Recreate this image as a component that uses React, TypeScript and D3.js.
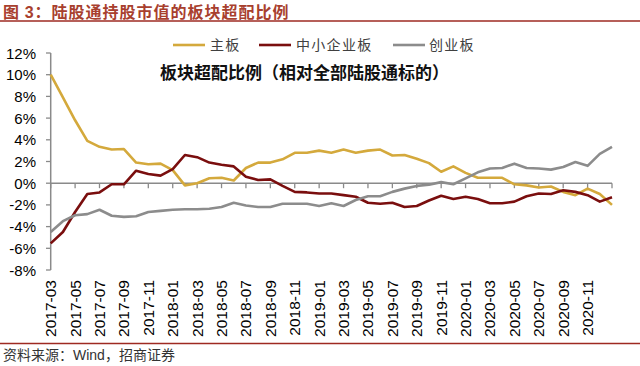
import * as d3 from 'd3';

const months = [
  '2017-03', '2017-04', '2017-05', '2017-06', '2017-07', '2017-08', '2017-09', '2017-10', '2017-11', '2017-12',
  '2018-01', '2018-02', '2018-03', '2018-04', '2018-05', '2018-06', '2018-07', '2018-08', '2018-09', '2018-10',
  '2018-11', '2018-12', '2019-01', '2019-02', '2019-03', '2019-04', '2019-05', '2019-06', '2019-07', '2019-08',
  '2019-09', '2019-10', '2019-11', '2019-12', '2020-01', '2020-02', '2020-03', '2020-04', '2020-05', '2020-06',
  '2020-07', '2020-08', '2020-09', '2020-10', '2020-11', '2020-12', '2021-01',
];

// 主板
const mainBoard = [
  10.0, 7.9, 5.8, 3.9, 3.35, 3.1, 3.15, 1.9, 1.75, 1.8,
  1.2, -0.2, 0.0, 0.45, 0.5, 0.25, 1.4, 1.9, 1.9, 2.2,
  2.8, 2.8, 3.0, 2.8, 3.1, 2.8, 3.0, 3.1, 2.55, 2.6,
  2.25, 1.85, 1.05, 1.55, 0.95, 0.5, 0.5, 0.5, -0.1, -0.2,
  -0.4, -0.3, -0.8, -1.1, -0.5, -1.0, -2.0,
];

// 中小企业板
const smeBoard = [
  -5.55, -4.5, -2.65, -1.0, -0.85, -0.1, -0.1, 1.15, 0.85, 0.7,
  1.3, 2.6, 2.4, 1.9, 1.7, 1.55, 0.6, 0.3, 0.35, -0.25,
  -0.8, -0.85, -0.95, -0.95, -1.1, -1.25, -1.8, -1.9, -1.8, -2.2,
  -2.1, -1.6, -1.15, -1.45, -1.25, -1.45, -1.85, -1.85, -1.7, -1.2,
  -0.95, -1.0, -0.65, -0.8, -1.1, -1.7, -1.3,
];

// 创业板
const chinext = [
  -4.5, -3.5, -2.95, -2.85, -2.45, -3.0, -3.1, -3.05, -2.65, -2.55,
  -2.45, -2.4, -2.4, -2.35, -2.2, -1.8, -2.05, -2.2, -2.2, -1.9,
  -1.9, -1.9, -2.1, -1.85, -2.1, -1.55, -1.2, -1.2, -0.8, -0.5,
  -0.25, -0.15, 0.1, -0.1, 0.45, 1.0, 1.35, 1.4, 1.8, 1.4,
  1.35, 1.25, 1.5, 1.95, 1.6, 2.7, 3.35,
];

const yTicks = [-8, -6, -4, -2, 0, 2, 4, 6, 8, 10, 12];
const xLabels = months.filter((_, i) => i % 2 === 0 && i <= 44);
const xTickMonths = months.filter((_, i) => i % 2 === 0);

const series = [
  { name: '主板', values: mainBoard, color: '#D4A93C' },
  { name: '中小企业板', values: smeBoard, color: '#7A0E0E' },
  { name: '创业板', values: chinext, color: '#8C8C8C' },
];

const W = 640;
const H = 366;
const axisColor = '#8A8A8A';
const latin = 'Arial, "Liberation Sans", sans-serif';
const cjk = '"Noto Sans CJK SC", sans-serif';

export default function App() {
  const x = d3.scalePoint<string>().domain(months).range([50.7, 612]);
  const y = d3.scaleLinear().domain([-8, 12]).range([270, 53]);

  const line = d3.line<number>()
    .x((_, i) => x(months[i]) as number)
    .y(d => y(d));

  const legendPos = [
    { x1: 173, x2: 205, tx: 210 },
    { x1: 259, x2: 291, tx: 296 },
    { x1: 393, x2: 425, tx: 429 },
  ];

  return (
    <svg width={W} height={H} style={{ position: 'absolute', left: 0, top: 0, background: '#fff' }}>
      {/* header */}
      <text x={3} y={17.5} fill="#A8402E" fontFamily={cjk} fontWeight="bold" fontSize={16} letterSpacing={1}>
        图 <tspan fontFamily={latin}>3</tspan>：陆股通持股市值的板块超配比例
      </text>
      <line x1={0} x2={W} y1={21} y2={21} stroke="#9E2A22" strokeWidth={1.6} />

      {/* legend */}
      {series.map((s, i) => (
        <g key={s.name}>
          <line x1={legendPos[i].x1} x2={legendPos[i].x2} y1={45} y2={45} stroke={s.color} strokeWidth={2.6} />
          <text x={legendPos[i].tx} y={50} fontFamily={cjk} fontSize={14} fill="#404040" letterSpacing={1.3}>
            {s.name}
          </text>
        </g>
      ))}

      {/* inner title */}
      <text x={160} y={79} fontFamily={cjk} fontWeight="bold" fontSize={17} fill="#111">
        板块超配比例（相对全部陆股通标的）
      </text>

      {/* y axis */}
      <line x1={50.7} x2={50.7} y1={y(12)} y2={y(-8)} stroke={axisColor} strokeWidth={1.5} />
      {yTicks.map(t => (
        <g key={t}>
          <line x1={46} x2={50.7} y1={y(t)} y2={y(t)} stroke={axisColor} strokeWidth={1.3} />
          <text x={36} y={y(t) + 5.5} textAnchor="end" fontFamily={latin} fontSize={15} fill="#000">
            {`${t}%`}
          </text>
        </g>
      ))}

      {/* x axis at 0% */}
      <line x1={50.7} x2={612} y1={y(0)} y2={y(0)} stroke={axisColor} strokeWidth={1.5} />
      {xTickMonths.map(m => (
        <line key={m} x1={x(m)} x2={x(m)} y1={y(0)} y2={y(0) + 5} stroke={axisColor} strokeWidth={1.3} />
      ))}
      {xLabels.map(m => (
        <text
          key={m}
          transform={`translate(${x(m)},280) rotate(-90)`}
          textAnchor="end"
          dominantBaseline="central"
          fontFamily={latin}
          fontSize={15.5}
          fill="#000"
        >
          {m}
        </text>
      ))}

      {/* series */}
      {series.map(s => (
        <path key={s.name} d={line(s.values) || ''} fill="none" stroke={s.color} strokeWidth={2.6} strokeLinejoin="round" />
      ))}

      {/* footer */}
      <line x1={0} x2={W} y1={343.5} y2={343.5} stroke="#9E2A22" strokeWidth={1.6} />
      <text x={3} y={359.5} fontFamily={cjk} fontSize={14} fill="#333">
        资料来源：<tspan fontFamily={latin}>Wind</tspan>，招商证券
      </text>
    </svg>
  );
}
